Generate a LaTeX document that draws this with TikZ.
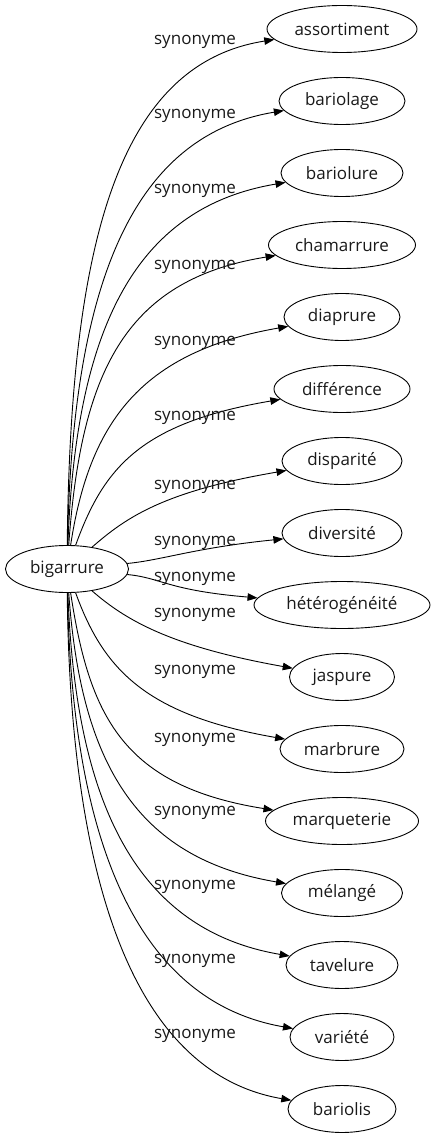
\documentclass[tikz,border=0pt]{standalone}
\usepackage{fontspec}
\setmainfont{Open Sans}
\usetikzlibrary{shapes.geometric,arrows.meta}
\begin{document}
\begin{tikzpicture}[x=1pt,y=-1pt,
  every node/.style={font=\fontsize{17}{20}\selectfont, text=black!90},
  word/.style={draw, ellipse, inner sep=0pt, minimum height=47pt, line width=0.9pt},
  syn/.style={inner sep=0pt},
  edge/.style={line width=0.9pt, -{Triangle[length=10pt,width=7.5pt]}}]
\useasboundingbox (0,0) rectangle (436,1139);
\node[word, minimum width=123pt] (c) at (67,569) {bigarrure};
\foreach \n/\t/\y/\w/\ly in {
  as/assortiment/29/150/39,
  bl/bariolage/101/126/113,
  bu/bariolure/173/122/188,
  ch/chamarrure/245/147/264,
  dp/diaprure/317/116/340,
  df/différence/389/136/415,
  ds/disparité/461/120/484,
  dv/diversité/533/120/540,
  ht/hétérogénéité/605/176/576,
  jp/jaspure/677/105/612,
  mb/marbrure/749/124/669,
  mq/marqueterie/821/153/737,
  ml/mélangé/893/121/810,
  tv/tavelure/965/112/884,
  vr/variété/1037/104/958,
  bs/bariolis/1109/108/1033} {
  \node[word, minimum width=\w pt] (\n) at (342,\y) {\t};
  \pgfmathsetmacro\dy{\y-569}
  \pgfmathsetmacro\ady{abs(\dy)}
  \pgfmathsetmacro\ax{67+120*exp(-\ady/150)}
  \pgfmathsetmacro\ay{569+0.6*\dy*(1-exp(-\ady/70))}
  \pgfmathsetmacro\bx{342-\w/2-(60+90*(1-exp(-\ady/100)))}
  \pgfmathsetmacro\by{\y-35*tanh(\dy/80)}
  \draw[edge] (c) .. controls (\ax,\ay) and (\bx,\by) .. (\n);
  \node[syn] (l\n) at (195,\ly+3) {synonyme};
}
\end{tikzpicture}
\end{document}
